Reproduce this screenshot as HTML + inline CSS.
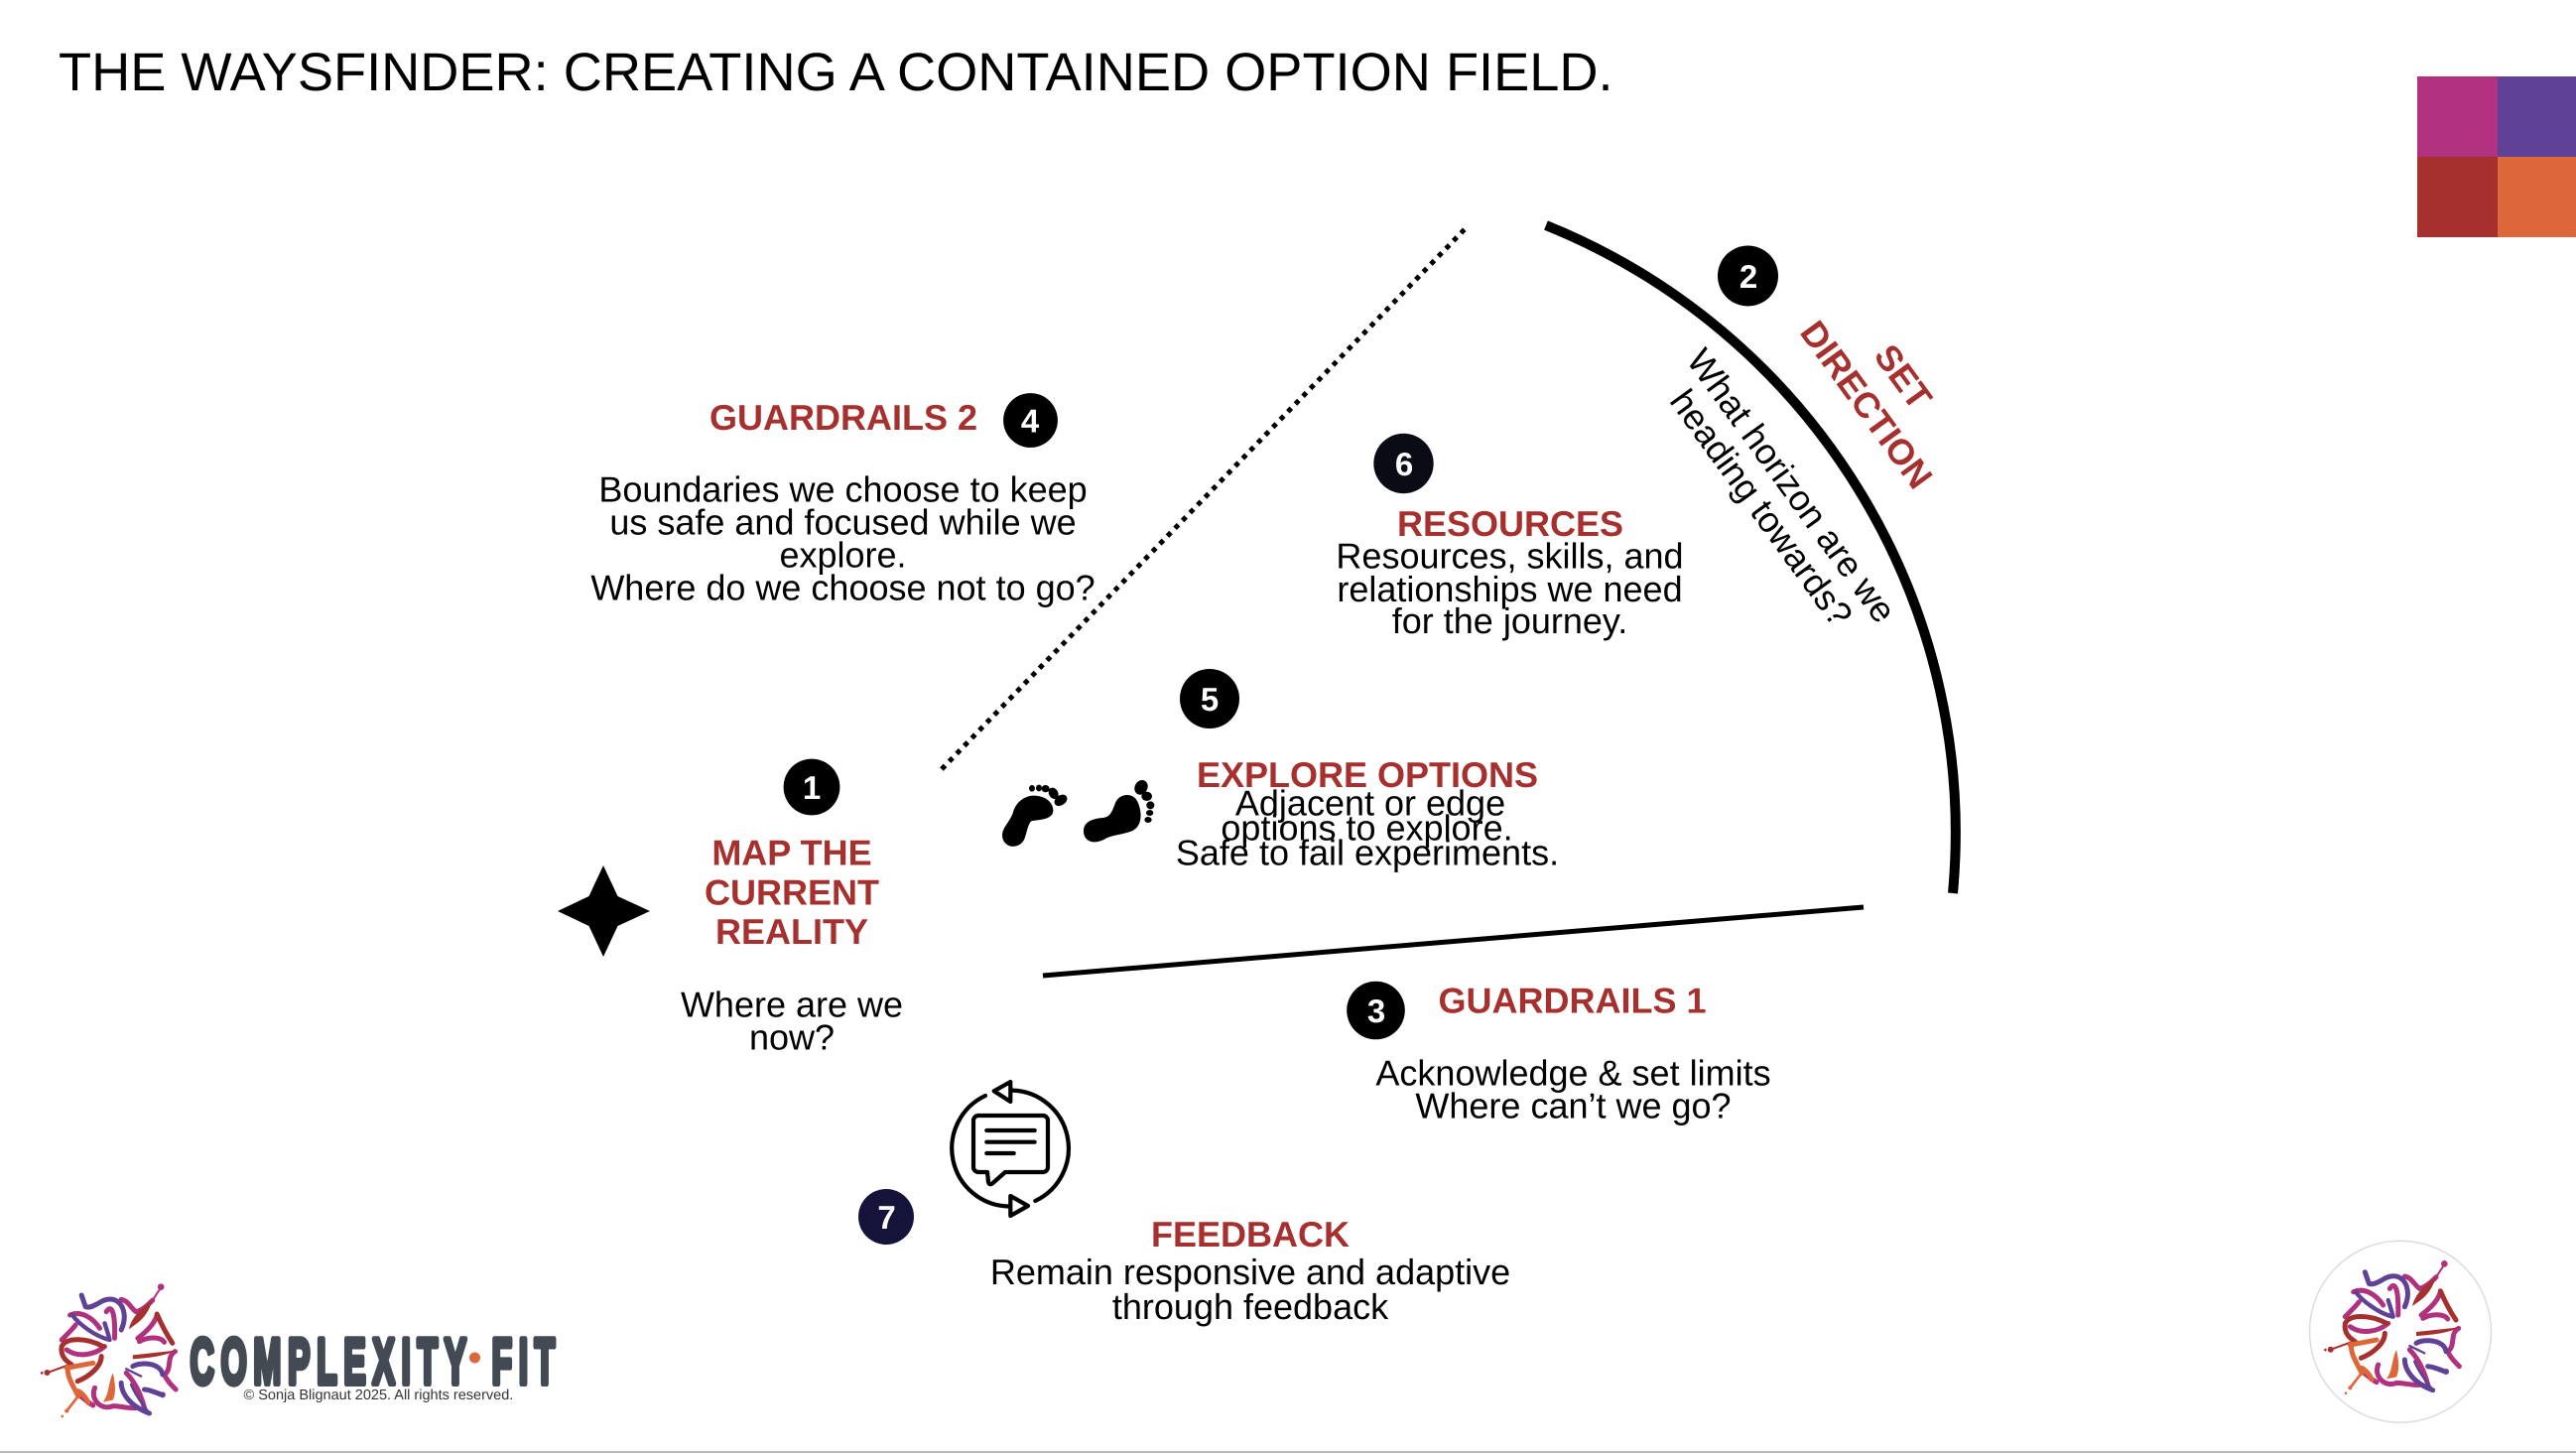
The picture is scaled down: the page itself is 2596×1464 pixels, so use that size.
<!DOCTYPE html>
<html lang="en"><head><meta charset="utf-8"><title>The Waysfinder</title>
<style>
html,body{margin:0;padding:0;background:#fff;width:2596px;height:1464px;overflow:hidden}
svg{display:block}
text{font-family:"Liberation Sans",Arial,sans-serif;text-rendering:geometricPrecision}
.b{font-size:36px;fill:#000;text-anchor:middle}
.h{font-size:36px;font-weight:700;fill:#A5302E;text-anchor:middle}
.n{font-size:33px;font-weight:700;fill:#fff;text-anchor:middle}
</style></head><body>
<svg width="2596" height="1464" viewBox="0 0 2596 1464" xmlns="http://www.w3.org/2000/svg">
<defs>
<g id="flower" transform="scale(.3333) translate(-365,-335)" fill="none" stroke-linecap="round" stroke-linejoin="round">
 <g stroke="#B0317D" stroke-width="15">
  <path d="M370 168C390 170 400 195 415 205C435 200 450 185 465 170"/>
  <path d="M478 215C470 245 440 270 420 285"/>
  <path d="M425 295C450 280 490 280 500 297"/>
  <path d="M533 325C505 340 525 380 500 395C510 415 520 425 535 440"/>
  <path d="M385 390C405 410 425 440 440 495"/>
  <path d="M290 435C275 470 310 505 345 490C370 490 400 500 420 495"/>
  <path d="M190 290C215 265 225 255 232 245"/>
  <path d="M215 215C250 200 285 225 305 255"/>
  <path d="M205 320C240 345 290 335 320 310"/>
  <path d="M325 205C345 175 352 225 350 285"/>
  <path d="M240 455C255 465 270 480 285 488"/>
  <path d="M465 170L488 135" stroke-width="6"/>
 </g>
 <circle cx="490" cy="130" r="10" fill="#B0317D"/>
 <g stroke="#5F4196" stroke-width="15">
  <path d="M250 155L262 190C275 195 290 185 300 180C315 170 330 165 345 168C375 175 390 215 370 260"/>
  <path d="M222 215C240 240 290 280 335 290C330 270 325 255 320 240" stroke-width="13"/>
  <path d="M405 370C430 355 490 360 495 395"/>
  <path d="M385 378L430 400" stroke-width="7"/>
  <path d="M440 440C450 440 465 445 490 455"/>
  <path d="M370 420C370 450 395 490 455 512"/>
  <path d="M400 425C410 450 430 480 455 512" stroke-width="8"/>
 </g>
 <circle cx="495" cy="456" r="9" fill="#5F4196"/>
 <circle cx="251" cy="153" r="4" fill="#5F4196"/>
 <g fill="#A5302E">
  <path d="M465 170C430 195 402 220 393 258L415 242C440 225 455 200 465 170Z"/>
  <path d="M405 336L535 322C500 340 450 345 405 348Z"/>
  <circle cx="146" cy="389" r="9"/><circle cx="130" cy="390" r="4"/>
 </g>
 <g stroke="#A5302E" stroke-width="15">
  <path d="M478 212C490 240 505 270 525 300"/>
  <path d="M315 310C270 285 205 280 190 310C185 340 205 355 220 365"/>
  <path d="M310 340C310 370 275 400 238 415"/>
  <path d="M150 388L205 368" stroke-width="6"/>
 </g>
 <g stroke="#DE673A" stroke-width="15">
  <path d="M205 375L285 360"/>
  <path d="M208 378C208 405 225 430 240 460"/>
  <path d="M240 460L205 505" stroke-width="8"/>
  <path d="M240 445C250 450 265 465 270 480"/>
 </g>
 <path d="M345 390C352 420 355 450 345 472L315 478C335 450 330 420 345 390Z" fill="#DE673A"/>
 <circle cx="192" cy="521" r="4" fill="#DE673A"/><circle cx="205" cy="505" r="6" fill="#DE673A"/>
</g>
</defs>

<rect width="2596" height="1464" fill="#fff"/>
<rect x="0" y="1462" width="2596" height="2" fill="#b8b8b8"/>

<text x="59" y="91" font-size="54.200" fill="#000">THE WAYSFINDER: CREATING A CONTAINED OPTION FIELD.</text>

<rect x="2436" y="77" width="81" height="81" fill="#B0317D"/>
<rect x="2517" y="77" width="79" height="81" fill="#5F4196"/>
<rect x="2436" y="158" width="81" height="81" fill="#A5302E"/>
<rect x="2517" y="158" width="79" height="81" fill="#DE673A"/>

<!-- boundaries -->
<path d="M949 775L1476 231" stroke="#000" stroke-width="5" stroke-dasharray="5 5.9" fill="none"/>
<path d="M1558 227A660 660 0 0 1 1968 900" stroke="#000" stroke-width="10" fill="none"/>
<path d="M1051 983L1878 914" stroke="#000" stroke-width="5" fill="none"/>

<!-- number badges -->
<circle cx="818" cy="793" r="28.4" fill="#000"/><text class="n" x="818" y="805">1</text>
<circle cx="1761.500" cy="278" r="30.500" fill="#000"/><text class="n" x="1762" y="290">2</text>
<circle cx="1386.500" cy="1018" r="29.300" fill="#000"/><text class="n" x="1387" y="1030">3</text>
<circle cx="1038.500" cy="423.500" r="27.400" fill="#000"/><text class="n" x="1038" y="435.500">4</text>
<circle cx="1219" cy="704" r="30" fill="#000"/><text class="n" x="1219" y="716">5</text>
<circle cx="1414.500" cy="467" r="30.200" fill="#0b0b16"/><text class="n" x="1415" y="479">6</text>
<circle cx="893" cy="1226" r="28" fill="#15133a"/><text class="n" x="893.500" y="1238">7</text>

<!-- 1 -->
<path d="M608 872L622.500 903L655 918L622.500 933L608 964L593.500 933L562 918L593.500 903Z" fill="#000"/>
<text class="h" x="798" y="871.700">MAP THE</text>
<text class="h" x="798" y="911.700">CURRENT</text>
<text class="h" x="798" y="951">REALITY</text>
<text class="b" x="798" y="1024.500">Where are we</text>
<text class="b" x="798" y="1057.500">now?</text>

<!-- 2 -->
<text class="h" transform="translate(1908 387) rotate(54)">SET</text>
<text class="h" transform="translate(1871 415) rotate(54)">DIRECTION</text>
<text class="b" transform="translate(1795.500 496.500) rotate(54)">What horizon are we</text>
<text class="b" transform="translate(1765 519) rotate(54)">heading towards?</text>

<!-- 3 -->
<text class="h" x="1584.500" y="1020.500">GUARDRAILS 1</text>
<text class="b" x="1585.500" y="1093.500">Acknowledge &amp; set limits</text>
<text class="b" x="1585.500" y="1126.500">Where can’t we go?</text>

<!-- 4 -->
<text class="h" x="850" y="433">GUARDRAILS 2</text>
<text class="b" x="849.500" y="505.500">Boundaries we choose to keep</text>
<text class="b" x="849.500" y="538.500">us safe and focused while we</text>
<text class="b" x="849.500" y="571.500">explore.</text>
<text class="b" x="849.500" y="604.500">Where do we choose not to go?</text>

<!-- 5 -->
<g transform="translate(980 760) scale(.3333)" fill="#000">
 <path d="M90 245C90 222 112 205 122 178C132 140 165 120 198 126C238 132 252 165 240 183C225 200 192 198 178 202C168 210 164 238 158 254C146 288 92 288 90 245Z"/>
 <ellipse cx="180" cy="103" rx="9" ry="10"/><ellipse cx="201" cy="102" rx="9" ry="10"/><ellipse cx="221" cy="104" rx="12" ry="11"/>
 <ellipse cx="245" cy="118" rx="14" ry="18" transform="rotate(-30 245 118)"/>
 <ellipse cx="267" cy="139" rx="21" ry="15" transform="rotate(-35 267 139)"/>
 <path d="M336 232C336 203 365 194 395 192C418 189 422 172 432 147C442 120 484 112 499 143C514 175 514 218 482 232C452 244 422 242 397 258C365 274 336 262 336 232Z"/>
 <ellipse cx="510" cy="100" rx="19" ry="23" transform="rotate(30 510 100)"/>
 <ellipse cx="527" cy="127" rx="16" ry="14"/><ellipse cx="538" cy="154" rx="12" ry="12"/>
 <ellipse cx="536" cy="177" rx="11" ry="9"/><ellipse cx="531" cy="198" rx="11" ry="9"/>
</g>
<text class="h" x="1378" y="793">EXPLORE OPTIONS</text>
<text class="b" x="1381" y="821.500">Adjacent or edge</text>
<text class="b" x="1377.500" y="846.500">options to explore.</text>
<text class="b" x="1378" y="871.500">Safe to fail experiments.</text>

<!-- 6 -->
<text class="h" x="1522" y="540">RESOURCES</text>
<text class="b" x="1521.500" y="572.500">Resources, skills, and</text>
<text class="b" x="1521.500" y="606">relationships we need</text>
<text class="b" x="1521.500" y="638">for the journey.</text>

<!-- 7 -->
<g fill="none" stroke="#000" stroke-width="4.200" stroke-linecap="round" stroke-linejoin="round">
 <path d="M993 1104A58.500 58.500 0 0 0 1016.700 1215.500"/>
 <path d="M1043.300 1210A58.500 58.500 0 0 0 1020.700 1098.600"/>
 <path d="M1001.700 1099.300L1018.300 1090V1110Z"/>
 <path d="M1036 1215L1018.300 1205V1225Z"/>
 <path d="M986 1124H1051A5 5 0 0 1 1056 1129V1176A5 5 0 0 1 1051 1181H1013L1000 1192.500C998 1194 996.500 1193 996 1191L995 1181H986A5 5 0 0 1 981 1176V1129A5 5 0 0 1 986 1124Z"/>
 <path d="M994.300 1139H1042.700M994.300 1150.700H1042.700M994.300 1162H1021.700"/>
</g>
<text class="h" x="1260" y="1256">FEEDBACK</text>
<text class="b" x="1260" y="1294">Remain responsive and adaptive</text>
<text class="b" x="1260" y="1329">through feedback</text>

<!-- logos -->
<use href="#flower" transform="translate(120.500 1365)"/>
<g font-size="65" font-weight="700" fill="#434a54" stroke="#434a54" stroke-width="6" stroke-linejoin="round" letter-spacing="12.600">
 <text transform="translate(191.500 1394) scale(.52 1)">COMPLEXITY</text>
 <text transform="translate(495.500 1394) scale(.52 1)">FIT</text>
</g>
<circle cx="478.500" cy="1368" r="5.500" fill="#DE673A"/>
<text x="245.500" y="1410" font-size="14.500" fill="#333">© Sonja Blignaut 2025. All rights reserved.</text>

<circle cx="2419" cy="1341.700" r="91.500" fill="#fff" stroke="#dcdcdc" stroke-width="1.500"/>
<use href="#flower" transform="translate(2421.700 1341.700)"/>
</svg>
</body></html>
